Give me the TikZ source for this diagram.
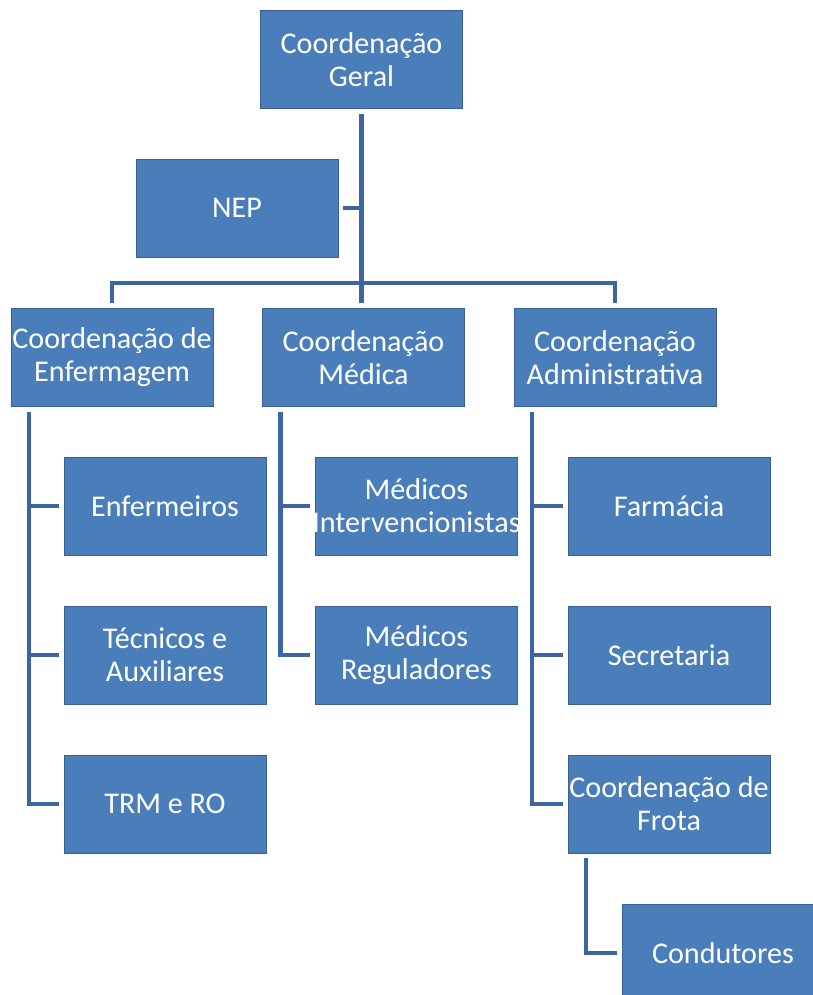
\documentclass[tikz,border=0pt]{standalone}
\usepackage{fontspec}
\setmainfont{Carlito}
\usepackage{tikz}
\definecolor{boxblue}{RGB}{74,126,187}
\definecolor{edgeblue}{RGB}{58,96,150}
\definecolor{lineblue}{RGB}{60,101,163}

\begin{document}
\begin{tikzpicture}[orgbox/.style={rectangle, draw=edgeblue, thin, fill=boxblue, text=white, minimum width=5.05cm, minimum height=2.45cm, inner sep=0pt, outer sep=0.13cm, align=center, font=\fontsize{21.4}{23.5}\selectfont}, link/.style={draw=lineblue, line width=3.4pt}, x=0.025cm, y=-0.025cm]
\useasboundingbox (0,0) rectangle (813,995);
\node[orgbox] (geral) at (361.5,59.5) {Coordenação\\Geral};
\node[orgbox] (nep) at (237,208) {NEP};
\node[orgbox] (enf) at (112,357.5) {Coordenação de\\Enfermagem};
\node[orgbox] (med) at (363.5,357.5) {Coordenação\\Médica};
\node[orgbox] (adm) at (615,357.5) {Coordenação\\Administrativa};
\node[orgbox] (enfermeiros) at (165,506) {Enfermeiros};
\node[orgbox] (tecnicos) at (165,655) {Técnicos e\\Auxiliares};
\node[orgbox] (trm) at (165,804) {TRM e RO};
\node[orgbox] (intervencionistas) at (416.5,506) {Médicos\\\makebox[0pt]{Intervencionistas}};
\node[orgbox] (reguladores) at (416.5,655) {Médicos\\Reguladores};
\node[orgbox] (farmacia) at (669,506) {Farmácia};
\node[orgbox] (secretaria) at (669,655) {Secretaria};
\node[orgbox] (frota) at (669,804) {Coordenação de\\Frota};
\node[orgbox] (condutores) at (723,953) {Condutores};
\coordinate (bar) at (361.5,283);
\draw[link] (geral.south) -- (geral.south |- med.north);
\draw[link] (nep.east) -- (nep.east -| geral.south);
\draw[link] (enf.north) |- (bar) -| (adm.north);
\draw[link] (enf.south west) ++(23.2,0) |- (enfermeiros.west);
\draw[link] (enf.south west) ++(23.2,0) |- (tecnicos.west);
\draw[link] (enf.south west) ++(23.2,0) |- (trm.west);
\draw[link] (med.south west) ++(23.2,0) |- (intervencionistas.west);
\draw[link] (med.south west) ++(23.2,0) |- (reguladores.west);
\draw[link] (adm.south west) ++(23.2,0) |- (farmacia.west);
\draw[link] (adm.south west) ++(23.2,0) |- (secretaria.west);
\draw[link] (adm.south west) ++(23.2,0) |- (frota.west);
\draw[link] (frota.south west) ++(23.2,0) |- (condutores.west);
\end{tikzpicture}
\end{document}
